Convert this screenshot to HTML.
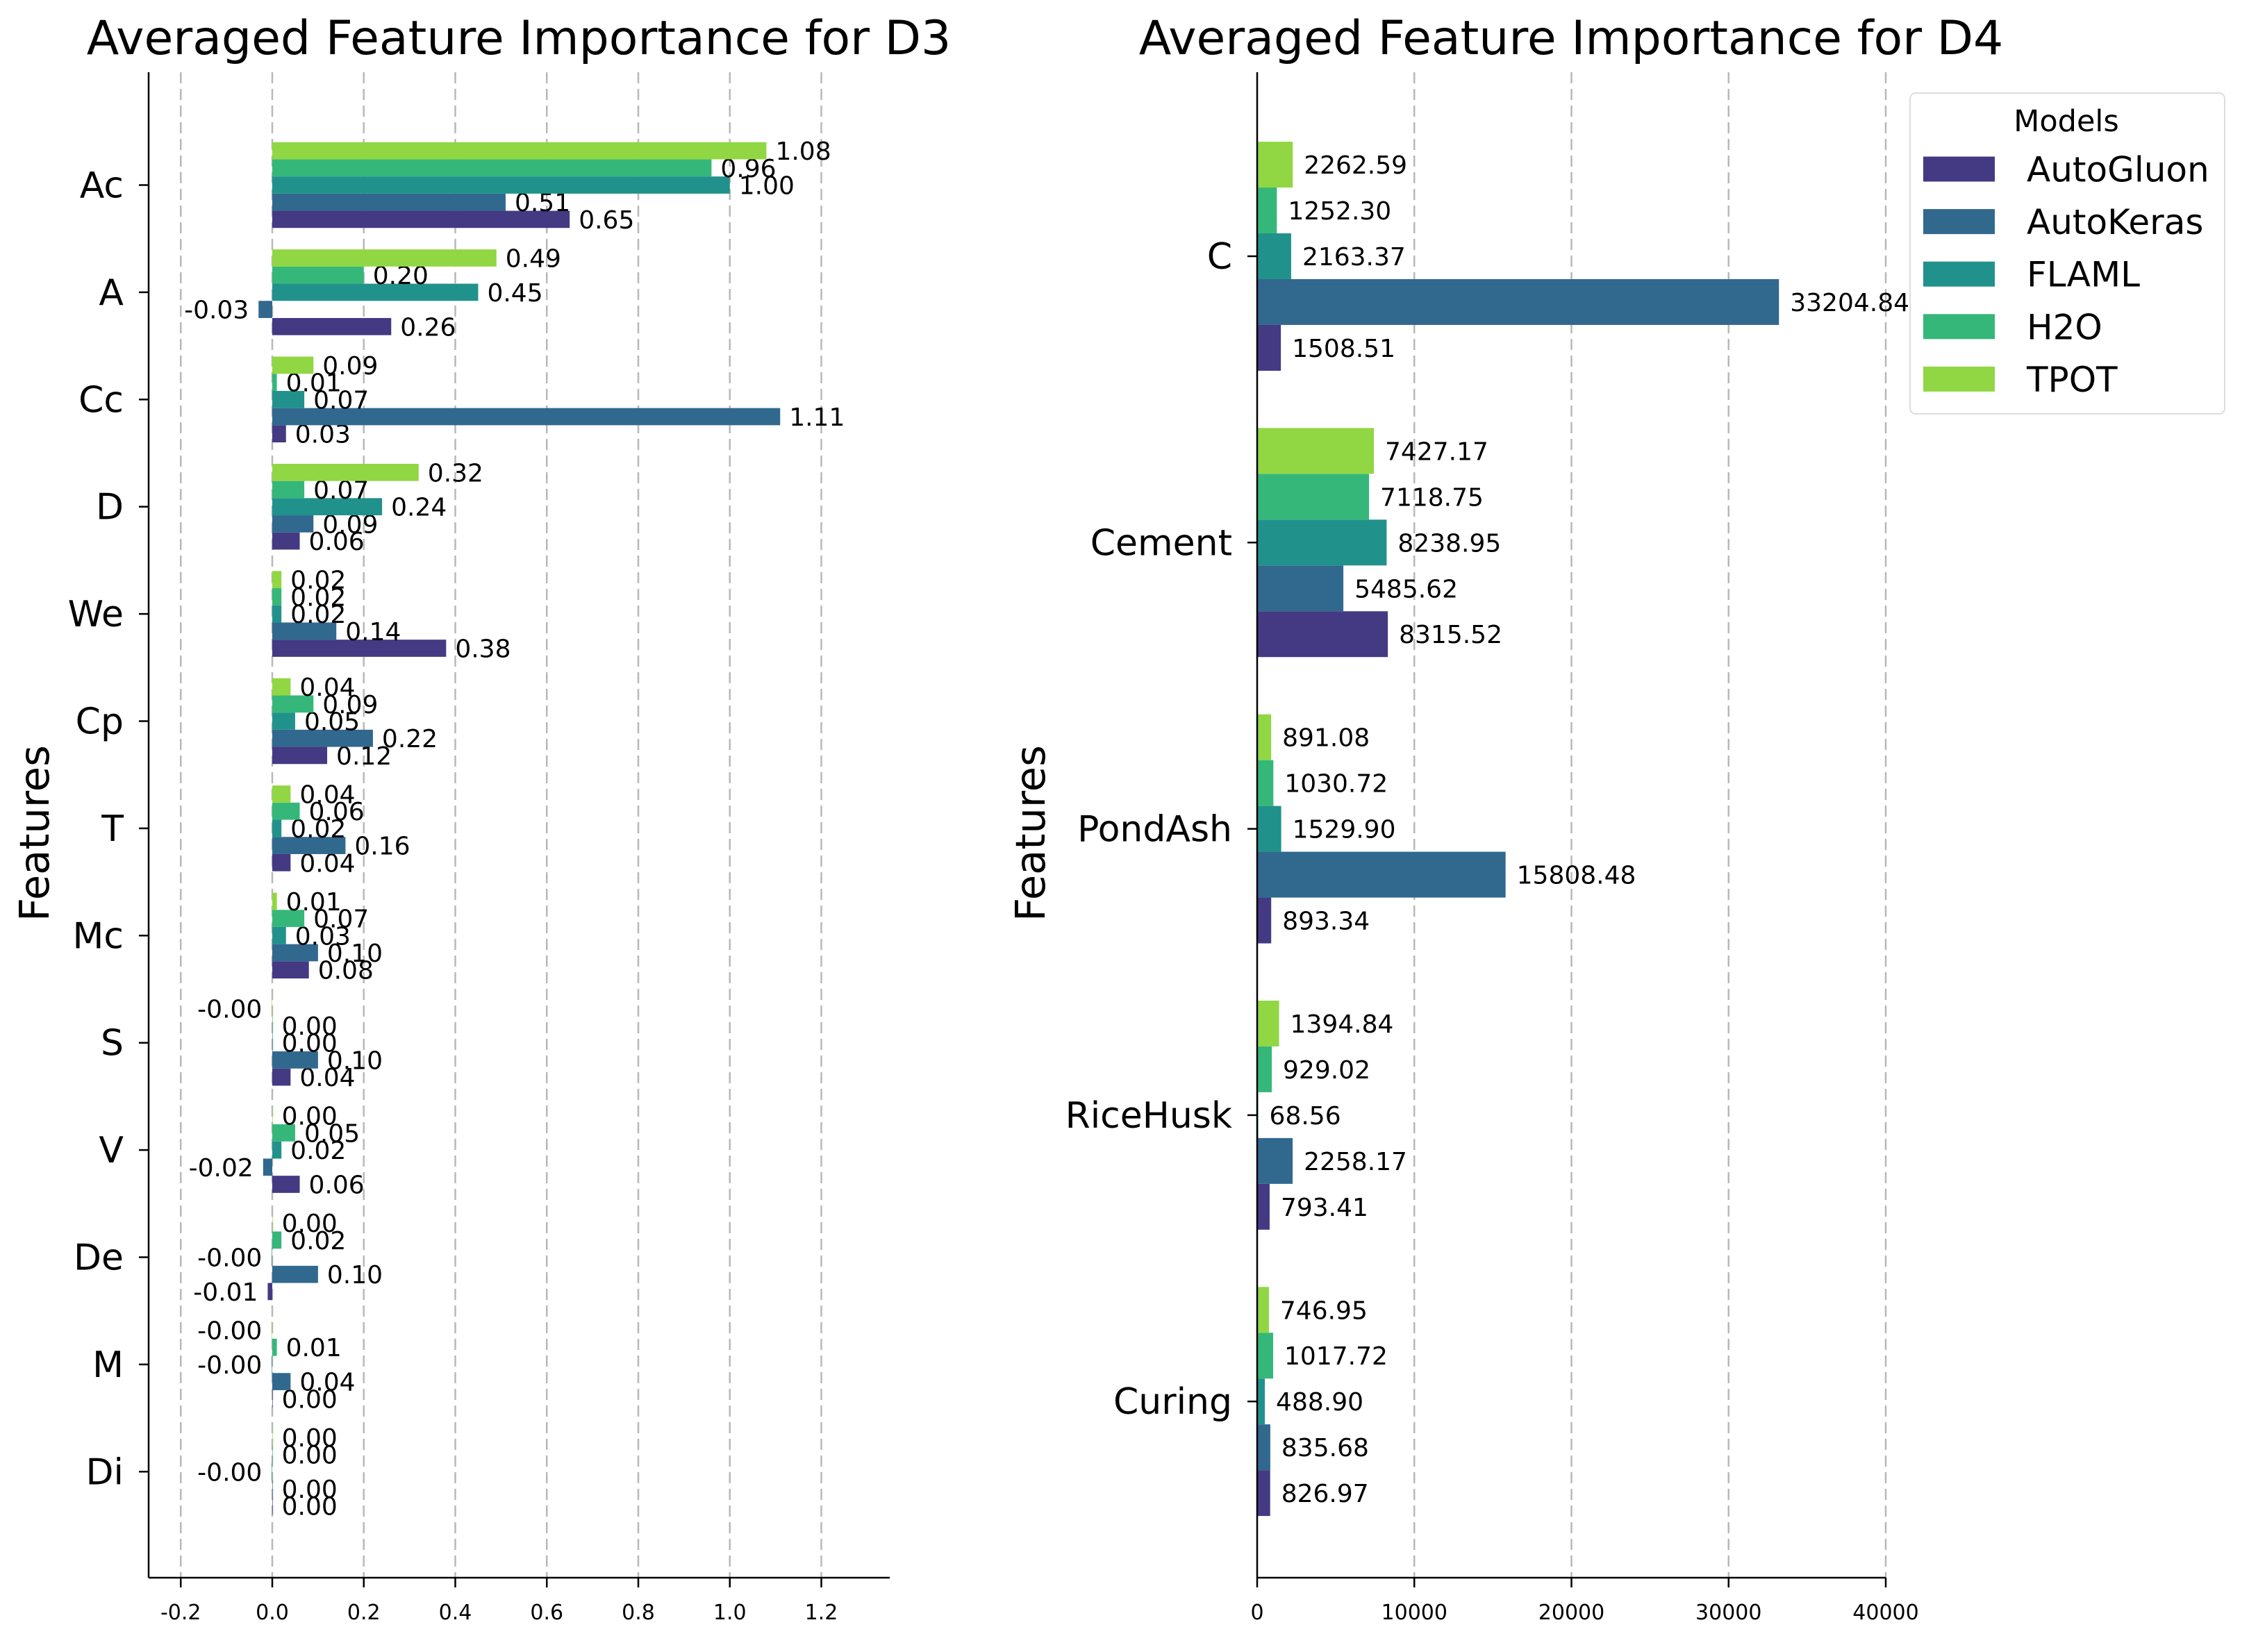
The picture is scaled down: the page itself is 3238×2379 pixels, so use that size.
<!DOCTYPE html>
<html><head><meta charset="utf-8"><style>
html,body{margin:0;padding:0;background:#fff;}
svg{display:block;font-family:"DejaVu Sans","Liberation Sans",sans-serif;}
</style></head><body>
<svg id="chart" width="3238" height="2379" viewBox="0 0 3238 2379" xmlns="http://www.w3.org/2000/svg">
<text x="747" y="78" font-size="68" text-anchor="middle">Averaged Feature Importance for D3</text>
<text x="2262" y="78" font-size="68" text-anchor="middle">Averaged Feature Importance for D4</text>
<text transform="translate(70,1200) rotate(-90)" font-size="59" text-anchor="middle">Features</text>
<text transform="translate(1504,1200) rotate(-90)" font-size="59" text-anchor="middle">Features</text>
<g id="left"></g>
<g id="right"></g>
<g>
<rect x="2750" y="134" width="453" height="462" rx="8" fill="#fff" fill-opacity="0.8" stroke="#ddd" stroke-width="2"/>
<text x="2975" y="189" font-size="43" text-anchor="middle">Models</text>
<g id="legendItems"></g>
</g>
</svg>
<script>
const models = ["AutoGluon","AutoKeras","FLAML","H2O","TPOT"];
const colors = ["#443983","#31688e","#21918c","#35b779","#90d743"];
const d3Features = ["Ac","A","Cc","D","We","Cp","T","Mc","S","V","De","M","Di"];
const d3AutoGluon = [0.65,0.26,0.03,0.06,0.38,0.12,0.04,0.08,0.04,0.06,-0.01,0.001,0.001];
const d3AutoKeras = [0.51,-0.03,1.11,0.09,0.14,0.22,0.16,0.10,0.10,-0.02,0.10,0.04,0.001];
const d3FLAML = [1.00,0.45,0.07,0.24,0.02,0.05,0.02,0.03,0.001,0.02,-0.001,-0.001,-0.001];
const d3H2O = [0.96,0.20,0.01,0.07,0.02,0.09,0.06,0.07,0.001,0.05,0.02,0.01,0.001];
const d3TPOT = [1.08,0.49,0.09,0.32,0.02,0.04,0.04,0.01,-0.001,0.001,0.001,-0.001,0.001];
const d3Ticks = [-0.2,0,0.2,0.4,0.6,0.8,1.0,1.2];
const d4Features = ["C","Cement","PondAsh","RiceHusk","Curing"];
const d4AutoGluon = [1508.51,8315.52,893.34,793.41,826.97];
const d4AutoKeras = [33204.84,5485.62,15808.48,2258.17,835.68];
const d4FLAML = [2163.37,8238.95,1529.90,68.56,488.90];
const d4H2O = [1252.30,7118.75,1030.72,929.02,1017.72];
const d4TPOT = [2262.59,7427.17,891.08,1394.84,746.95];
const d4Ticks = [0,10000,20000,30000,40000];

const NS="http://www.w3.org/2000/svg";
function mk(parent,tag,attrs,txt){const e=document.createElementNS(NS,tag);for(const k in attrs)e.setAttribute(k,attrs[k]);if(txt!==undefined)e.textContent=txt;parent.appendChild(e);return e;}

function drawPanel(g,cfg){
  const xs=v=>cfg.x0+v*cfg.scale;
  const yTopAxis=104,yBottom=2272;
  cfg.ticks.forEach(t=>{
    const x=xs(t);
    if(t!==0||!cfg.zeroSpine){
      const l=mk(g,"line",{x1:x,x2:x,y1:yTopAxis,y2:yBottom,stroke:"#b8b8b8","stroke-width":2.5,"stroke-dasharray":"16,8"});
      
      
    }
    const tk=mk(g,"line",{x1:x,x2:x,y1:yBottom,y2:yBottom+14,stroke:"#000","stroke-width":2.5});
    
    
    const lab=mk(g,"text",{x:x,y:yBottom+60,"font-size":30,"text-anchor":"middle"},cfg.fmtTick(t));
    
    
  });
  const series=cfg.series;
  const n=series.length;
  const bw=cfg.band*0.8/n;
  cfg.cats.forEach((c,i)=>{
    const cy=cfg.y0+i*cfg.band;
    const tk=mk(g,"line",{x1:cfg.spine-14,x2:cfg.spine,y1:cy,y2:cy,stroke:"#000","stroke-width":2.5});
    
    
    const lab=mk(g,"text",{x:cfg.spine-36,y:cy+18,"font-size":52,"text-anchor":"end"},c);
    
    
    for(let s=0;s<n;s++){
      const v=series[s][i];
      const yb=cy+cfg.band*0.4-(s+1)*bw;
      const x1=xs(Math.min(0,v)),x2=xs(Math.max(0,v));
      const r=mk(g,"rect",{x:x1,y:yb,width:Math.max(0.5,x2-x1),height:bw,fill:colors[s]});
      
      
      const neg=v<0;
      const t=mk(g,"text",{x:neg?xs(v)-14:xs(v)+cfg.off,y:yb+bw/2+13,"font-size":36,"text-anchor":neg?"end":"start"},v.toFixed(2));
      
      
    }
  });
  const sp=mk(g,"line",{x1:cfg.spine,x2:cfg.spine,y1:yTopAxis,y2:yBottom,stroke:"#000","stroke-width":2.5});
  
  
  const ax=mk(g,"line",{x1:cfg.spine,x2:cfg.xEnd,y1:yBottom,y2:yBottom,stroke:"#000","stroke-width":2.5});
  
  
}

drawPanel(document.getElementById("left"),{
  x0:392,scale:658.75,spine:214,xEnd:1281,ticks:d3Ticks,zeroSpine:false,
  fmtTick:t=>t.toFixed(1),cats:d3Features,y0:266.5,band:154.4,off:13,
  series:[d3AutoGluon,d3AutoKeras,d3FLAML,d3H2O,d3TPOT]
});
drawPanel(document.getElementById("right"),{
  x0:1810,scale:0.022625,spine:1810,xEnd:2715,ticks:d4Ticks,zeroSpine:true,
  fmtTick:t=>String(t),cats:d4Features,y0:369,band:412.3,off:16,
  series:[d4AutoGluon,d4AutoKeras,d4FLAML,d4H2O,d4TPOT]
});

const li=document.getElementById("legendItems");
models.forEach((m,i)=>{
  const y=243.5+i*75.6;
  const r=mk(li,"rect",{x:2769,y:y-18,width:103,height:36,fill:colors[i]});
  
  
  const t=mk(li,"text",{x:2918,y:y+18,"font-size":50},m);
  
  
});
</script>
</body></html>
